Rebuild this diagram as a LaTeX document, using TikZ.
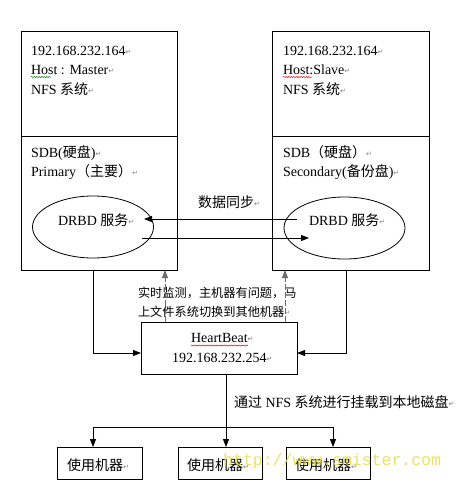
\documentclass[tikz,border=0pt]{standalone}
\usepackage{fontspec}
\setmainfont{Liberation Serif}
\newfontfamily\cjk{Noto Sans CJK SC}
\newfontfamily\dejavu{DejaVu Sans}
\newfontfamily\wmono{Liberation Mono}
\usetikzlibrary{arrows.meta,shapes.geometric,decorations.pathmorphing}
\newcommand{\pmark}{{\dejavu\fontsize{7}{7}\selectfont\color{gray}\raisebox{1pt}{↵}}}
\tikzset{
  box/.style={draw, line width=0.8pt, inner sep=0pt, outer sep=0pt, anchor=north west},
  ell/.style={draw, line width=0.8pt, ellipse, inner sep=0pt, outer sep=0pt, minimum width=121pt, minimum height=62pt},
  txt/.style={anchor=base west, inner sep=0pt, outer sep=0pt, font=\fontsize{14}{16}\selectfont},
  stxt/.style={anchor=base west, inner sep=0pt, outer sep=0pt, font=\fontsize{12.2}{14}\selectfont},
  arr/.style={line width=0.8pt, -{Triangle[length=8pt,width=6pt]}},
  garr/.style={line width=0.9pt, draw=gray!85!black, dash pattern=on 6pt off 2pt, -{Triangle[length=8pt,width=6pt]}},
  squig/.style={line width=0.5pt, decorate, decoration={snake, amplitude=0.6pt, segment length=2.5pt}},
}
\begin{document}
\begin{tikzpicture}[x=1pt,y=-1pt]
\useasboundingbox[fill=white] (0,0) rectangle (464,488);
% master box
\node[box, minimum width=156pt, minimum height=105pt] (ltop) at (21,31) {};
\node[box, minimum width=156pt, minimum height=134pt] (lbot) at (21,136) {};
% slave box
\node[box, minimum width=157pt, minimum height=105pt] (rtop) at (272,31) {};
\node[box, minimum width=157pt, minimum height=134pt] (rbot) at (272,136) {};
% texts master
\node[txt] (l1) at (31,55) {192.168.232.164\pmark};
\node[txt] (l2) at (31,74.5) {Host : Master\pmark};
\node[txt] (l3) at (31,94) {NFS {\cjk 系统}\pmark};
\node[txt] (l4) at (31,157) {SDB({\cjk 硬盘})\pmark};
\node[txt] (l5) at (31,176.5) {Primary{\cjk （主要）}\pmark};
% texts slave
\node[txt] (r1) at (283,55) {192.168.232.164\pmark};
\node[txt] (r2) at (283,74.5) {Host:Slave\pmark};
\node[txt] (r3) at (283,94) {NFS {\cjk 系统}\pmark};
\node[txt] (r4) at (283,157) {SDB{\cjk （硬盘）}\pmark};
\node[txt] (r5) at (283,176.5) {Secondary({\cjk 备份盘})\pmark};
% squiggles
\draw[squig, green!50!black] (31,77) -- (51,77);
\draw[squig, red] (283,77) -- (312,77);
% ellipses
\node[ell] (lell) at (93,227) {};
\node[ell] (rell) at (344.5,228) {};
\node[txt] (ld) at (58,225) {DRBD {\cjk 服务}\pmark};
\node[txt] (rd) at (309,225) {DRBD {\cjk 服务}\pmark};
% sync
\node[txt] (sync) at (198,207) {{\cjk 数据同步}\pmark};
\coordinate (u1) at (297,219);
\coordinate (u2) at (144,219);
\coordinate (d1) at (142,238);
\coordinate (d2) at (309,238);
\draw[arr] (u1) -- (u2);
\draw[arr] (d1) -- (d2);
% heartbeat
\node[box, minimum width=156pt, minimum height=52pt] (hb) at (141,322) {};
\node[txt] (hb1) at (191,342) {HeartBeat\pmark};
\node[txt] (hb2) at (172,362) {192.168.232.254\pmark};
\draw[squig, red] (191,345.5) -- (248,345.5);
% monitor text
\node[stxt] (m1) at (138,297) {\cjk 实时监测，主机器有问题，马};
\node[stxt] (m2) at (138,316) {{\cjk 上文件系统切换到其他机器}\pmark};
% connectors to heartbeat
\coordinate (hl) at (93,353);
\coordinate (hr) at (346,353);
\draw[arr] (lbot.south -| hl) |- (hb.west |- hl);
\draw[arr] (rbot.south -| hr) |- (hb.east |- hr);
\draw[garr] (hb.north -| 165,0) -- (lbot.south -| 165,0);
\draw[garr] (hb.north -| 285,0) -- (rbot.south -| 285,0);
% bottom
\node[txt] (nfs) at (234,407) {{\cjk 通过} NFS {\cjk 系统进行挂载到本地磁盘}\pmark};
\node[box, minimum width=85pt, minimum height=32pt] (c1) at (57,447) {};
\node[box, minimum width=84pt, minimum height=32pt] (c2) at (178,447) {};
\node[box, minimum width=84pt, minimum height=32pt] (c3) at (286,447) {};
\node[txt] (c1t) at (67,470) {{\cjk 使用机器}\pmark};
\node[txt] (c2t) at (187,470) {{\cjk 使用机器}\pmark};
\node[txt] (c3t) at (295,470) {{\cjk 使用机器}\pmark};
\coordinate (j) at (226,427);
\coordinate (ja) at (93,427);
\coordinate (jb) at (333,427);
\draw[line width=0.8pt] (hb.south -| j) -- (j);
\draw[line width=0.8pt] (ja) -- (jb);
\draw[arr] (ja) -- (c1.north -| ja);
\draw[arr] (j) -- (c2.north -| j);
\draw[arr] (jb) -- (c3.north -| jb);
% watermark
\node[anchor=base west, inner sep=0pt, opacity=0.85, text={rgb,255:red,232;green,222;blue,70}, font=\wmono\fontsize{16.5}{18}\selectfont] (wm) at (223,465) {http://www.smister.com};
\end{tikzpicture}
\end{document}
